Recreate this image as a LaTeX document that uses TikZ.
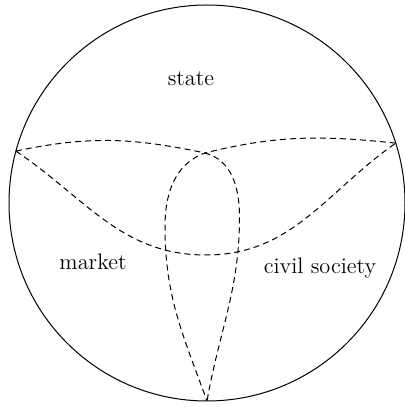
\documentclass[tikz,border=0pt]{standalone}
\usetikzlibrary{calc}
\begin{document}
\begin{tikzpicture}[x=0.5pt,y=0.5pt,
  boundary/.style={line width=0.5pt},
  divider/.style={line width=0.5pt, dash pattern=on 3pt off 2pt},
  label/.style={font=\fontsize{11.2}{13}\selectfont, anchor=base}]
\useasboundingbox (0,0) rectangle (405,407);
\coordinate (C) at (207,204);
\node[boundary, draw, circle, minimum size=396*0.5pt, inner sep=0pt] (circ) at (C) {};
\coordinate (L) at ($(C)+(164.8:198)$);
\coordinate (R) at ($(C)+(17.6:198)$);
\coordinate (B) at ($(C)+(-90:198)$);
\coordinate (X) at (205,254);
\coordinate (M) at (206,152);
\coordinate (Rs) at (239.5,190);
\coordinate (Ls) at (165,180);
\draw[divider] (L) to[out=-34,in=180] (M) to[out=0,in=-145] (R);
\draw[divider] (L) to[out=12,in=168] (X) to[out=-15,in=90] (Rs) to[out=-90,in=80] (B);
\draw[divider] (R) to[out=174,in=14] (X) to[out=-160,in=90] (Ls) to[out=-90,in=110] (B);
\node[label] (state) at (191,321) {state};
\node[label] (market) at (93,137) {market};
\node[label] (civil) at (320,133) {civil society};
\end{tikzpicture}
\end{document}
